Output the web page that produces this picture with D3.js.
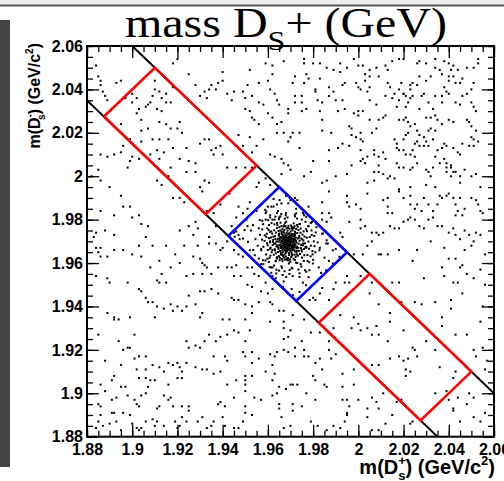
<!DOCTYPE html>
<html><head><meta charset="utf-8">
<script src="https://cdn.jsdelivr.net/npm/d3@7"></script>
<style>body{margin:0;background:#fff}svg{display:block}</style>
</head><body>
<svg id="c" width="504" height="481"></svg>
<script>
// ---- data (masses in MeV/c^2; axis labels shown in GeV/c^2) ----
const tickValues = [1880,1900,1920,1940,1960,1980,2000,2020,2040,2060];
const tickLabels = ["1.88","1.9","1.92","1.94","1.96","1.98","2","2.02","2.04","2.06"];
const bandSums = [3915, 3960];          // m(D+) + m(Ds-) of the two diagonal cuts
const signalWindow = [-30, 30];          // m(D+) - m(Ds-) range of the blue box
const sidebands = [[-140, -50], [50, 140]]; // red boxes
const backgroundPts = [
[1967,2053],[1976,2054],[1976,2052],[1980,2052],[1983,2052],[1986,2050],[1989,2049],[1992,2052],[1992,2048],[1995,2050],[1998,2054],[2000,2051],[2002,2051],[2005,2049],[2008,2050],[2013,2049],[2012,2051],[2015,2053],[2018,2054],[2020,2054],[2026,2052],[2027,2053],[2030,2052],[2034,2054],[2034,2050],[2038,2053],[2040,2052],[2042,2051],[2041,2049],[2044,2049],[2048,2050],[2051,2050],[2053,2054],[2053,2052],
[1972,2046],[1971,2043],[1977,2047],[1978,2045],[1976,2043],[1983,2045],[1981,2040],[1987,2041],[1989,2039],[1993,2042],[1994,2043],[1999,2043],[2000,2041],[2001,2040],[2003,2047],[2005,2046],[2003,2044],[2005,2041],[2009,2046],[2013,2043],[2014,2041],[2019,2043],[2018,2040],[2020,2038],[2023,2040],[2023,2042],[2024,2043],[2026,2042],[2027,2046],[2030,2044],[2032,2046],[2036,2049],[2037,2047],[2040,2046],[2040,2044],[2042,2046],[2043,2043],[2045,2043],[2046,2045],[2051,2043],
[1972,2037],[1972,2034],[1975,2037],[1975,2034],[1969,2031],[1969,2029],[1975,2030],[1977,2031],[1981,2039],[1982,2035],[1984,2034],[1983,2030],[1987,2037],[1990,2035],[1993,2035],[1991,2030],[1994,2031],[1998,2029],[2000,2030],[2002,2030],[2004,2039],[2005,2035],[2008,2033],[2012,2037],[2016,2038],[2015,2036],[2018,2035],[2017,2032],[2020,2038],[2021,2037],[2023,2036],[2022,2034],[2021,2032],[2024,2037],[2028,2037],[2027,2031],[2029,2038],[2031,2034],[2033,2031],[2034,2037],[2037,2037],[2037,2034],[2039,2039],[2038,2041],[2040,2038],[2043,2034],[2045,2033],[2046,2037],[2048,2038],[2050,2040],[2050,2034],[2051,2032],[2052,2030],
[1966,2025],[1967,2020],[1971,2020],[1970,2018],[1974,2020],[1969,2016],[1984,2026],[1984,2021],[1988,2020],[1996,2023],[1997,2022],[1997,2019],[1999,2018],[2001,2020],[2001,2017],[2002,2016],[2000,2028],[2005,2026],[2006,2020],[2008,2022],[2009,2026],[2011,2027],[2012,2028],[2018,2026],[2020,2026],[2021,2027],[2022,2025],[2023,2023],[2021,2019],[2020,2017],[2022,2020],[2025,2024],[2026,2021],[2027,2019],[2029,2018],[2031,2021],[2030,2027],[2032,2027],[2034,2028],[2035,2026],[2037,2024],[2040,2026],[2042,2025],[2048,2026],[2049,2025],[2050,2023],[2052,2021],[2050,2018],[2051,2017],[2053,2016],[2030,2016],[2032,2022],[2034,2021],
[1966,2008],[1967,2006],[1969,2005],[1974,2013],[1980,2007],[1987,2012],[1987,2007],[1991,2013],[1993,2015],[1996,2014],[2001,2012],[2002,2008],[2004,2009],[2007,2012],[2007,2010],[2009,2009],[2011,2011],[2012,2008],[2016,2017],[2017,2015],[2017,2013],[2018,2012],[2020,2012],[2021,2010],[2023,2010],[2024,2012],[2025,2009],[2025,2015],[2026,2016],[2027,2014],[2029,2014],[2031,2014],[2033,2017],[2034,2009],[2035,2012],[2037,2013],[2038,2015],[2039,2014],[2042,2013],[2044,2011],[2045,2010],[2046,2015],[2049,2014],[2051,2014],[2038,2008],[2039,2006],[2041,2005],
[1966,2001],[1970,2003],[1976,2000],[1979,2002],[1984,1997],[1986,1998],[1990,2000],[1995,2001],[1997,2005],[2001,2007],[2003,2006],[2004,1997],[2007,1998],[2007,2002],[2009,2002],[2009,2005],[2011,2001],[2013,1999],[2014,2000],[2016,1999],[2017,2006],[2018,2004],[2020,2004],[2023,2003],[2024,2004],[2026,2006],[2030,2003],[2031,2002],[2032,2000],[2033,2004],[2036,2006],[2039,2004],[2039,2002],[2041,2004],[2042,2002],[2041,2000],[2043,2002],[2045,2000],[2045,1997],[2047,2003],[2050,2000],[2052,2001],[2054,1995],[2030,1996],[2034,1995],[2023,1995],[2018,1994],
[1987,1993],[1987,1983],[1984,1988],[1995,1991],[1995,1988],[1996,1986],[1999,1987],[2001,1985],[2004,1992],[2011,1989],[2013,1990],[2013,1986],[2013,1983],[2015,1983],[2018,1993],[2020,1990],[2023,1991],[2023,1987],[2025,1985],[2026,1987],[2028,1984],[2029,1990],[2031,1987],[2033,1984],[2035,1987],[2036,1991],[2037,1990],[2039,1991],[2040,1992],[2042,1990],[2043,1987],[2045,1990],[2047,1985],[2050,1990],[2052,1989],[2053,1987],[2054,1984],[2055,1983],[2044,1984],[2043,1982],[2046,1982],
[1972,1990],[1973,1989],[1975,1985],[1968,1991],[1970,1989],[1978,1986],[1984,1983],[1984,1980],[1986,1979],[1988,1981],[1992,1974],[1993,1972],[1996,1979],[2001,1980],[2001,1976],[2003,1977],[2006,1974],[2008,1974],[2009,1973],[2011,1974],[2014,1977],[2016,1976],[2018,1976],[2020,1979],[2022,1980],[2023,1981],[2025,1980],[2027,1977],[2029,1976],[2031,1980],[2033,1981],[2035,1977],[2037,1977],[2040,1974],[2042,1976],[2043,1973],[2045,1971],[2047,1975],[2049,1973],[2052,1974],[2054,1973],
[1884,2051],[1885,2046],[1886,2044],[1886,2042],[1887,2039],[1888,2037],[1889,2035],[1893,2043],[1895,2044],[1897,2036],[1900,2038],[1900,2034],[1902,2036],[1903,2031],[1902,2029],[1904,2026],[1906,2032],[1907,2033],[1908,2034],[1909,2037],[1910,2044],[1910,2040],[1912,2039],[1913,2036],[1915,2038],[1915,2034],[1917,2034],[1918,2041],[1918,2052],[1920,2054],[1925,2047],[1928,2042],[1930,2037],[1932,2039],[1933,2036],[1934,2040],[1935,2042],[1937,2040],[1938,2043],[1940,2048],[1940,2044],[1942,2038],[1944,2035],[1945,2039],[1949,2039],[1950,2036],[1951,2042],[1952,2049],[1953,2037],[1959,2052],[1962,2051],[1962,2047],[1960,2044],[1961,2040],[1963,2038],[1956,2043],[1956,2034],[1958,2033],[1950,2031],[1952,2030],[1953,2027],[1954,2026],[1960,2029],[1962,2027],[1964,2035],[1965,2033],
[1895,2024],[1904,2021],[1907,2022],[1912,2025],[1913,2030],[1911,2031],[1915,2024],[1917,2022],[1920,2022],[1922,2020],[1921,2025],[1918,2013],[1916,2017],[1912,2017],[1909,2017],[1904,2016],[1899,2017],[1896,2014],[1895,2011],[1892,2010],[1889,2009],[1886,2010],[1885,2003],[1898,2004],[1899,2007],[1900,2009],[1903,2008],[1905,2010],[1908,2010],[1911,2012],[1912,2008],[1914,2011],[1917,2004],[1921,2008],[1924,2013],[1925,2007],[1928,2002],[1928,2006],[1930,2015],[1932,2017],[1934,2017],[1935,2012],[1936,2010],[1937,2013],[1939,2014],[1940,2010],[1942,2004],[1946,2004],[1950,2004],[1949,2014],[1947,2019],[1952,2018],[1953,2011],[1955,2014],[1956,2024],[1958,2017],[1964,2024],[1964,2020],[1961,2010],[1963,2009],
[1882,2000],[1886,1998],[1890,1995],[1895,1991],[1896,1986],[1899,1986],[1892,1982],[1886,1984],[1888,1975],[1892,1973],[1884,1974],[1883,1972],[1900,1981],[1903,1982],[1904,1978],[1907,1977],[1906,1972],[1911,1998],[1913,1996],[1916,2000],[1917,1998],[1918,1990],[1921,1990],[1923,1988],[1924,2002],[1930,1995],[1931,1993],[1932,1998],[1934,1997],[1933,1984],[1936,1983],[1939,1987],[1943,1992],[1946,1981],[1947,1986],[1949,1983],[1951,1985],[1952,1988],[1955,1995],[1956,1997],[1953,2004],[1958,2002],[1959,1999],[1961,1996],[1961,1981],[1962,1980],[1964,1983],[1965,1981],[1921,1975],[1925,1977],[1927,1973],[1929,1976],[1928,1979],[1934,1972],[1937,1977],[1944,1977],[1945,1974],[1947,1973],[1950,1980],[1951,1977],[1956,1976],[1959,1983],[1960,1986],[1964,1987],
[1884,1967],[1885,1965],[1886,1967],[1886,1963],[1889,1963],[1892,1966],[1896,1966],[1900,1964],[1903,1968],[1904,1963],[1909,1968],[1912,1961],[1915,1968],[1919,1964],[1923,1968],[1927,1963],[1929,1968],[1930,1962],[1931,1960],[1932,1959],[1934,1969],[1937,1969],[1939,1966],[1940,1967],[1942,1970],[1945,1966],[1947,1964],[1949,1963],[1946,1959],[1951,1958],[1953,1958],[1954,1955],[1956,1954],[1959,1951],[1908,1958],[1913,1955],[1911,1952],[1912,1951],[1915,1951],[1917,1958],[1921,1960],[1924,1954],[1927,1955],[1931,1955],[1933,1958],[1935,1955],[1938,1958],[1942,1958],[1944,1958],[1945,1954],[1948,1954],[1951,1950],[1953,1949],[1957,1947],[1960,1946],[1962,1948],
[1884,1954],[1889,1953],[1890,1951],[1898,1951],[1903,1948],[1904,1947],[1906,1944],[1907,1942],[1909,1942],[1911,1940],[1910,1935],[1914,1939],[1917,1941],[1918,1938],[1920,1940],[1922,1938],[1924,1940],[1925,1945],[1930,1947],[1932,1947],[1935,1948],[1938,1946],[1944,1944],[1945,1943],[1947,1943],[1950,1941],[1953,1940],[1953,1937],[1956,1942],[1961,1942],[1962,1941],[1965,1938],[1967,1938],[1967,1933],[1961,1933],[1967,1930],[1967,1925],[1969,1926],[1970,1929],[1971,1936],[1972,1921],[1972,1917],[1969,1919],[1967,1920],[1964,1919],[1963,1917],[1961,1918],[1962,1913],[1956,1916],[1953,1914],[1953,1919],[1950,1917],[1949,1919],[1950,1924],[1947,1928],[1945,1929],[1942,1927],[1939,1926],[1937,1924],[1934,1927],[1930,1935],[1931,1937],[1928,1941],[1924,1924],[1925,1921],[1928,1922],[1930,1921],[1932,1924],[1936,1917],[1941,1917],[1942,1915],[1946,1906],[1950,1908],[1950,1906],[1953,1908],[1940,1934],[1943,1934],[1950,1934],[1952,1929],[1962,1906],[1963,1909],[1959,1910],
[1885,1927],[1888,1915],[1889,1937],[1892,1935],[1892,1934],[1894,1934],[1894,1924],[1896,1920],[1898,1921],[1899,1921],[1899,1935],[1901,1927],[1901,1916],[1903,1917],[1902,1911],[1903,1907],[1906,1911],[1906,1907],[1908,1906],[1907,1903],[1906,1900],[1904,1899],[1901,1897],[1902,1895],[1903,1894],[1898,1899],[1895,1913],[1892,1908],[1891,1906],[1886,1904],[1888,1901],[1885,1895],[1886,1894],[1891,1897],[1893,1898],[1895,1903],[1897,1903],[1896,1891],[1899,1890],[1900,1886],[1902,1884],[1903,1883],[1904,1884],[1885,1887],[1884,1884],[1887,1885],[1886,1890],[1891,1891],[1892,1891],[1893,1887],[1890,1886],[1895,1883],[1883,1880],
[1906,1917],[1909,1913],[1910,1906],[1912,1912],[1914,1910],[1916,1914],[1916,1904],[1918,1913],[1920,1914],[1921,1912],[1922,1910],[1920,1907],[1922,1907],[1924,1914],[1928,1912],[1931,1911],[1933,1911],[1936,1909],[1939,1910],[1942,1904],[1938,1895],[1939,1896],[1941,1894],[1945,1898],[1950,1904],[1950,1901],[1954,1898],[1957,1897],[1950,1894],[1950,1891],[1953,1890],[1949,1887],[1947,1884],[1945,1884],[1941,1885],[1940,1889],[1936,1887],[1935,1885],[1933,1884],[1931,1889],[1929,1887],[1925,1892],[1925,1894],[1922,1889],[1922,1894],[1918,1894],[1917,1898],[1916,1897],[1914,1899],[1912,1894],[1911,1893],[1909,1888],[1906,1887],[1910,1885],[1911,1887],[1914,1885],[1919,1887],[1920,1884],[1921,1885],[1924,1887],
[1962,1899],[1964,1900],[1965,1903],[1968,1902],[1970,1904],[1971,1904],[1973,1904],[1965,1895],[1965,1893],[1971,1895],[1971,1892],[1966,1889],[1967,1884],[1970,1885],
[2004,1968],[2006,1970],[2009,1964],[2010,1964],[2013,1964],[2018,1966],[2024,1961],[2026,1966],[2032,1970],[2038,1967],[2040,1962],[2043,1962],[2045,1958],[2046,1959],[2047,1966],[2050,1968],[2051,1970],[2054,1957],[2056,1964],[2037,1958],[2038,1954],[2042,1951],[2044,1951],[2046,1946],[2051,1953],[2002,1964],[1998,1964],[2001,1954],[2006,1951],[2015,1951],[2018,1951],[2029,1953],[1995,1954],[1994,1951],[1996,1951],[1990,1951],[1989,1948],[1987,1943],[1983,1946],[1981,1943],[1980,1944],
[2005,1946],[2009,1941],[2014,1937],[2019,1942],[2025,1942],[2028,1941],[2034,1942],[2041,1943],[2041,1939],[2037,1935],[2037,1931],[2043,1927],[2048,1927],[2054,1933],[2055,1940],[2008,1931],[2014,1933],[2009,1927],[2013,1924],[2006,1927],[2004,1930],[1998,1935],[2000,1932],[2001,1929],[1992,1936],[1989,1930],[1983,1928],[1979,1928],[1976,1934],[1975,1924],[1987,1924],
[1997,1930],[2020,1929],[2018,1917],[2020,1915],[2022,1916],[2024,1921],[2025,1920],[2026,1917],[2021,1911],[2021,1908],[2023,1910],[2014,1916],[2009,1913],[2006,1913],[2004,1911],[2030,1924],[2034,1920],[2036,1912],[2042,1907],[2043,1910],
[1976,1920],[1976,1917],[1978,1917],[1980,1908],[1981,1906],[1983,1916],[1984,1911],[1985,1904],[1986,1903],[1987,1920],[1988,1916],[1990,1918],[1993,1903],[1993,1909],[1995,1897],[1995,1891],[1993,1897],[1996,1894],[1998,1911],[1998,1904],[2000,1897],[2004,1893],[2006,1898],[2008,1896],[2009,1893],[2011,1900],[2004,1889],[2006,1883],[2009,1883],[2012,1886],[2015,1890],[2017,1896],[2019,1897],[2023,1886],[2024,1887],[1979,1887],[1981,1897],[1982,1885],[1989,1885],[1992,1884],[1994,1887],[1995,1890],[1986,1883],[1977,1900],[1975,1894],[1981,1914],
[2048,1955],[2056,1950],[2055,1921],[2051,1920],[2056,1911],[2053,1907],[2049,1900],[2051,1898],[2048,1895],[2042,1893],[2044,1898],[2040,1897],[2039,1901],[2034,1900],[2042,1892],[2045,1887],[2051,1889],[2054,1887],[2056,1891],[2057,1915],[2052,1917]
];
const clusterPts = [
[1965.0,1968.2],[1965.3,1970.6],[1965.5,1966.9],[1965.7,1972.0],[1965.9,1969.4],[1966.1,1967.8],[1966.2,1971.3],[1966.4,1965.9],[1966.5,1973.0],[1966.7,1969.0],[1966.8,1970.9],[1966.9,1967.0],[1967.0,1972.4],[1967.1,1968.5],[1967.2,1966.1],[1967.3,1970.1],[1967.4,1971.8],[1967.5,1967.6],[1967.6,1969.6],[1967.7,1973.1],[1967.8,1965.6],[1967.9,1968.9],[1968.0,1971.0],[1968.1,1966.8],[1968.2,1972.6],[1968.3,1970.3],[1968.4,1968.0],[1968.5,1965.4],[1968.6,1971.7],[1968.7,1969.1],[1968.8,1967.3],[1968.9,1973.2],[1969.0,1970.6],[1969.1,1966.2],[1969.2,1968.4],[1969.3,1972.1],[1969.4,1969.9],[1969.5,1967.7],[1969.6,1971.2],[1969.7,1965.7],[1969.8,1968.9],[1969.9,1973.0],[1970.0,1970.2],[1970.1,1966.6],[1970.2,1972.3],[1970.3,1968.1],[1970.4,1969.6],[1970.5,1971.5],[1970.6,1967.2],[1970.7,1970.8],[1970.8,1965.9],[1970.9,1968.7],[1971.0,1972.6],[1971.1,1969.9],[1971.2,1967.0],[1971.3,1971.1],[1971.4,1968.3],[1971.5,1966.2],[1971.6,1970.4],[1971.7,1972.1],[1971.8,1969.0],[1971.9,1967.6],[1972.0,1971.0],[1972.2,1968.4],[1972.4,1970.1],[1972.6,1966.8],[1972.7,1969.4],[1964.8,1969.8],[1965.2,1971.5],[1965.6,1968.6],[1966.0,1970.2],[1966.3,1966.9],[1966.6,1968.1],[1966.9,1972.0],[1967.2,1969.3],[1967.5,1971.0],[1967.8,1967.0],[1968.1,1969.7],[1968.4,1971.4],[1968.7,1966.6],[1969.0,1968.7],[1969.3,1970.9],[1969.6,1966.8],[1969.9,1969.4],[1970.2,1971.6],[1970.5,1968.0],[1970.8,1972.5],[1971.1,1966.5],[1971.4,1969.6],[1971.7,1967.4],[1972.0,1972.8],[1966.1,1973.4],[1967.1,1974.0],[1968.3,1973.9],[1969.5,1973.8],[1970.6,1973.4],[1971.6,1973.3],[1965.4,1965.6],[1966.6,1965.0],[1967.9,1964.7],[1969.3,1964.6],[1970.4,1964.9],[1971.9,1965.5],[1972.9,1967.5],[1973.1,1971.3],[1964.5,1967.3],[1964.4,1971.1],[1968.0,1968.4],[1968.9,1970.1],[1969.7,1969.0],[1967.6,1970.4],[1968.5,1967.8],[1970.1,1970.7],[1967.3,1968.0],[1969.2,1971.5],[1970.9,1967.8],[1966.5,1970.0],[1969.8,1972.4],[1968.2,1966.0],[1971.3,1970.0],[1966.8,1971.8],[1968.6,1969.8],[1969.4,1968.2],[1967.9,1972.0],[1970.4,1966.1],[1965.8,1967.5],[1972.3,1971.7],[1964.9,1972.6],[1972.8,1965.6],
[1960.9,1969.5],[1961.2,1967.1],[1961.4,1971.8],[1961.7,1965.0],[1961.9,1973.6],[1962.1,1968.3],[1962.3,1970.6],[1962.6,1963.8],[1962.8,1975.1],[1963.0,1966.4],[1963.1,1972.4],[1963.3,1969.0],[1963.5,1964.5],[1963.6,1974.0],[1963.8,1967.6],[1964.0,1976.1],[1964.1,1962.7],[1964.3,1970.0],[1964.5,1965.1],[1964.7,1974.8],[1964.9,1963.2],[1965.1,1976.5],[1965.3,1962.4],[1965.5,1975.0],[1965.8,1963.9],[1966.0,1977.0],[1966.2,1961.9],[1966.4,1975.6],[1966.7,1963.3],[1966.9,1976.8],[1967.1,1962.6],[1967.3,1975.2],[1967.5,1961.6],[1967.8,1977.0],[1968.0,1963.0],[1968.2,1976.0],[1968.5,1961.4],[1968.7,1974.9],[1968.9,1962.3],[1969.1,1977.2],[1969.4,1963.7],[1969.6,1975.8],[1969.8,1961.7],[1970.1,1974.6],[1970.3,1962.8],[1970.6,1976.6],[1970.8,1963.6],[1971.0,1975.1],[1971.3,1962.0],[1971.5,1976.2],[1971.8,1963.9],[1972.0,1974.4],[1972.3,1962.9],[1972.5,1975.7],[1972.8,1964.0],[1973.0,1973.8],[1973.3,1963.4],[1973.5,1975.2],[1973.7,1965.6],[1973.9,1972.5],[1974.2,1964.2],[1974.4,1974.0],[1974.6,1966.9],[1974.8,1971.3],[1975.0,1965.3],[1975.3,1973.1],[1975.5,1968.2],[1975.7,1970.4],[1976.0,1966.5],[1976.2,1972.2],[1976.4,1969.1],[1976.6,1967.4],[1973.6,1968.9],[1974.0,1970.3],[1973.4,1967.0],[1974.7,1968.4],[1975.2,1970.9],[1963.7,1969.9],[1963.3,1971.1],[1964.0,1968.2],[1962.7,1968.9],[1962.4,1972.1],[1968.3,1962.0],[1969.2,1961.3],[1967.4,1963.9],[1970.6,1964.1],[1968.9,1976.3],[1967.2,1977.4],[1970.2,1977.3],[1966.1,1974.3],[1971.8,1977.0],[1964.6,1966.5],[1973.2,1976.7],[1965.0,1973.6],[1972.6,1965.1],[1965.7,1964.7],[1972.1,1973.9],[1962.0,1966.0],[1975.8,1974.6],[1961.5,1974.6],[1976.1,1963.6],[1963.9,1962.1],[1974.5,1975.9],[1964.2,1977.5],[1975.1,1962.5],[1961.1,1963.4],[1976.9,1975.6],[1960.5,1971.5],[1977.0,1967.0],[1961.0,1966.6],[1977.2,1971.7],[1966.5,1960.9],[1971.4,1978.3],[1969.9,1960.6],[1967.6,1978.5],[1963.4,1960.8],[1974.1,1978.0],[1960.3,1975.3],[1977.5,1963.7],[1962.9,1977.8],[1975.9,1961.0],[1965.6,1978.6],[1972.4,1960.2],[1960.7,1962.4],[1977.8,1977.0],[1959.9,1968.2],[1977.9,1969.9],[1968.1,1979.0],[1969.3,1959.8],[1963.2,1965.8],[1974.9,1966.0],[1964.8,1972.9],[1973.8,1971.7],[1966.3,1964.0],[1971.9,1961.4],[1966.9,1974.6],[1970.7,1975.9],[1962.2,1969.8],[1975.6,1969.0],[1965.2,1961.3],[1972.9,1977.5],
[1958.0,1967.5],[1958.6,1972.8],[1959.2,1964.0],[1959.7,1976.0],[1960.4,1960.5],[1961.6,1978.4],[1962.7,1958.9],[1964.9,1980.2],[1966.2,1957.8],[1968.7,1981.0],[1970.8,1957.5],[1972.9,1980.5],[1974.8,1958.4],[1976.6,1979.0],[1978.3,1960.4],[1979.3,1975.0],[1979.7,1965.5],[1980.3,1970.0],[1957.4,1970.8],[1958.9,1961.2],[1960.1,1979.8],[1963.8,1956.9],[1967.4,1956.2],[1971.9,1982.3],[1976.4,1956.7],[1978.9,1963.1],[1980.6,1967.8],[1979.4,1972.9],[1965.9,1982.6],[1961.3,1958.0],[1957.9,1977.9],[1981.2,1974.1],[1959.6,1969.1],[1978.2,1966.6],[1969.6,1956.8],[1967.9,1982.0],[1963.3,1981.4],[1974.0,1955.3],[1977.3,1974.7],[1960.9,1974.4],
[1958.5,1970.2],[1979.0,1968.0],[1967.5,1980.5],[1970.5,1957.8],[1959.8,1962.0],[1978.0,1977.0],[1960.5,1977.5],[1977.5,1961.0],[1957.0,1966.5],[1980.5,1972.5],[1963.0,1980.0],[1973.5,1957.0],[1956.5,1973.0],[1981.0,1965.0],[1965.0,1956.5],[1975.0,1980.0],[1958.0,1959.5],[1979.5,1979.0],[1961.0,1982.0],[1977.0,1956.0],[1955.5,1968.0],[1982.0,1969.5],[1968.0,1983.0],[1969.5,1955.0],[1960.0,1966.0],[1978.5,1972.0],[1964.0,1978.5],[1974.5,1959.5],[1957.5,1975.5],[1980.0,1961.5],[1962.0,1958.0],[1976.0,1982.0],[1959.0,1980.0],[1981.5,1976.5],[1966.5,1954.5],[1972.0,1981.5],[1954.5,1971.0],[1983.0,1967.0],[1961.5,1955.5],[1978.0,1953.5],[1956.0,1962.0],[1984.0,1973.5],[1964.5,1984.0],[1972.5,1985.0],[1959.5,1973.5],[1979.8,1964.0],[1965.5,1981.5],[1971.0,1954.0],[1953.5,1966.0],[1985.0,1962.5],[1958.8,1984.5],[1982.5,1958.0],[1957.0,1959.5],[1979.0,1978.5],[1967.0,1951.5],[1962.5,1986.0],[1975.5,1951.0],[1952.5,1975.0],[1986.0,1970.5],[1962.0,1954.0],[1975.5,1983.0],[1957.5,1979.5],[1983.5,1955.5],[1969.0,1987.5],[1966.0,1958.5],[1974.0,1978.0],[1961.0,1970.0],[1977.0,1967.5],[1963.5,1961.0],[1973.0,1960.0],
[1949.0,1971.3],[1952.0,1965.9],[1954.2,1963.6],[1966.7,1949.0],[1971.1,1945.2],[1974.0,1946.7],[1976.9,1949.8],[1981.4,1951.3],[1983.6,1953.6],[1985.8,1956.7],[1988.7,1959.8],[1991.6,1962.9],[1988.7,1965.9],[1985.8,1969.0],[1984.3,1973.6],[1981.4,1978.3],[1968.1,1991.3],[1965.2,1989.0],[1961.5,1986.0],[1959.3,1983.7],[1956.4,1979.8],[1953.4,1977.5],[1949.7,1975.2],[1945.3,1972.1],[1951.2,1969.8],[1972.5,1982.9],[1977.0,1981.3],[1982.8,1965.9],[1979.9,1959.8],[1978.4,1956.7],[1974.0,1953.6],[1968.1,1953.6],[1963.7,1955.2],[1960.8,1958.2],[1957.8,1961.3],[1957.1,1965.9],[1959.3,1972.1],[1946.0,1974.5],[1950.5,1980.0],[1955.0,1984.0],[1962.5,1989.5],[1990.0,1966.5],[1987.0,1961.0],[1984.0,1948.5],[1978.5,1943.0],[1970.5,1948.0],[1963.5,1953.0],[1986.5,1969.0],[1966.0,1987.5],[1947.5,1971.0]
];

// ---- layout ----
const svg = d3.select("#c");
const W = 504, H = 481;
const frame = {left: 87, right: 494, top: 46, bottom: 436.7};
const x = d3.scaleLinear().domain([1880, 2060]).range([frame.left, frame.right]);
const y = d3.scaleLinear().domain([1880, 2060]).range([frame.bottom, frame.top]);
const minorTicks = d3.range(1880, 2060.1, 5);

// window decoration
svg.append("rect").attr("x",0).attr("y",0).attr("width",W).attr("height",5).attr("fill","#eeeeee");
svg.append("line").attr("x1",0).attr("x2",W).attr("y1",5.5).attr("y2",5.5).attr("stroke","#555").attr("stroke-width",2);
svg.append("rect").attr("x",0).attr("y",20).attr("width",10).attr("height",447).attr("fill","#444");

// clip
svg.append("clipPath").attr("id","clip").append("rect")
  .attr("x",frame.left).attr("y",frame.top).attr("width",frame.right-frame.left).attr("height",frame.bottom-frame.top);
const plot = svg.append("g").attr("clip-path","url(#clip)");

// points
const allPts = backgroundPts.concat(clusterPts);
plot.append("g").selectAll("rect").data(allPts).join("rect")
  .attr("x", d => x(d[0]) - 1).attr("y", d => y(d[1]) - 1)
  .attr("width", 2).attr("height", 2).attr("fill", "#000");

// diagonal cut lines x + y = const
const line = d3.line().x(d => x(d[0])).y(d => y(d[1]));
bandSums.forEach(s => {
  const ext = [[s - 2060, 2060], [2060, s - 2060]];
  plot.append("path").datum(ext).attr("d", line)
    .attr("fill","none").attr("stroke","#000").attr("stroke-width",2);
});

// boxes in rotated coords: u = x + y, v = x - y
function box(vr) {
  const [u0, u1] = bandSums;
  const c = [[u0, vr[0]], [u1, vr[0]], [u1, vr[1]], [u0, vr[1]], [u0, vr[0]]];
  return c.map(([u, v]) => [(u + v) / 2, (u - v) / 2]);
}
sidebands.forEach(vr => {
  plot.append("path").datum(box(vr)).attr("d", line)
    .attr("fill","none").attr("stroke","#ff0000").attr("stroke-width",2.6);
});
plot.append("path").datum(box(signalWindow)).attr("d", line)
  .attr("fill","none").attr("stroke","#0000ff").attr("stroke-width",2.6);

// axes (ticks on all four sides, pointing inward)
const fontLab = "'Liberation Sans', Arial, Helvetica, sans-serif";
function styleAxis(g) { g.select(".domain").remove(); g.selectAll("line").attr("stroke","#000").attr("stroke-width",1.3); }
const fmt = v => tickLabels[tickValues.indexOf(v)];

const bx = svg.append("g").attr("transform",`translate(0,${frame.bottom})`)
  .call(d3.axisBottom(x).tickValues(tickValues).tickSize(-12).tickPadding(7).tickFormat(fmt));
svg.append("g").attr("transform",`translate(0,${frame.bottom})`)
  .call(d3.axisBottom(x).tickValues(minorTicks).tickSize(-6).tickFormat("")).call(styleAxis);
bx.call(styleAxis);
const ly = svg.append("g").attr("transform",`translate(${frame.left},0)`)
  .call(d3.axisLeft(y).tickValues(tickValues).tickSize(-12).tickPadding(4).tickFormat(fmt));
svg.append("g").attr("transform",`translate(${frame.left},0)`)
  .call(d3.axisLeft(y).tickValues(minorTicks).tickSize(-6).tickFormat("")).call(styleAxis);
ly.call(styleAxis);
[[12,tickValues],[6,minorTicks]].forEach(([len, vals]) => {
  svg.append("g").attr("transform",`translate(0,${frame.top})`)
    .call(d3.axisTop(x).tickValues(vals).tickSize(-len).tickFormat("")).call(styleAxis);
  svg.append("g").attr("transform",`translate(${frame.right},0)`)
    .call(d3.axisRight(y).tickValues(vals).tickSize(-len).tickFormat("")).call(styleAxis);
});
svg.selectAll(".tick text").attr("font-family",fontLab).attr("font-weight","bold").attr("font-size",16).attr("fill","#000");

// frame
svg.append("rect").attr("x",frame.left).attr("y",frame.top)
  .attr("width",frame.right-frame.left).attr("height",frame.bottom-frame.top)
  .attr("fill","none").attr("stroke","#000").attr("stroke-width",2);

// axis titles
function axisTitle(g, sign, fs) {
  const small = Math.round(fs * 0.65);
  const t = g.append("text").attr("font-family",fontLab).attr("font-weight","bold")
    .attr("font-size",fs).attr("text-anchor","end").attr("fill","#000");
  t.append("tspan").text("m(D");
  t.append("tspan").attr("font-size",small).attr("dy",-fs*0.45).text(sign);
  t.append("tspan").attr("font-size",small).attr("dx",-small*0.58).attr("dy",fs*0.75).text("s");
  t.append("tspan").attr("dy",-fs*0.3).text(") (GeV/c");
  t.append("tspan").attr("font-size",small).attr("dy",-fs*0.45).text("2");
  t.append("tspan").attr("dy",fs*0.45).text(")");
  return t;
}
axisTitle(svg.append("g").attr("transform","translate(495,474)"), "+", 20);
axisTitle(svg.append("g").attr("transform","translate(40,43) rotate(-90)"), "-", 16);

// title
const title = svg.append("text").attr("font-family","'Liberation Serif', 'Times New Roman', serif")
  .attr("font-size",42).attr("fill","#000").attr("x",125).attr("y",37)
  .attr("textLength",322).attr("lengthAdjust","spacingAndGlyphs");
title.append("tspan").text("mass D");
title.append("tspan").attr("font-size",28).attr("dy",13).text("S");
title.append("tspan").attr("dy",-13).text("+ (GeV)");
</script>
</body></html>
